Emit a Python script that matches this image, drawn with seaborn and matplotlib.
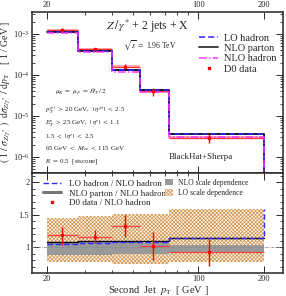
import matplotlib
matplotlib.use("Agg")
import matplotlib.pyplot as plt
from matplotlib.lines import Line2D
from matplotlib.patches import Patch
from matplotlib.ticker import FixedLocator, NullFormatter, LogLocator, LogFormatterMathtext, MultipleLocator
import numpy as np
import pandas as pd
import seaborn as sns

# bins in second-jet pT [GeV]
BIN_EDGES = [20, 28, 40, 54, 73, 200]
DATA_X = [23.4, 33.4, 46.0, 62.0, 112.6]

# upper panel: normalised cross sections [1/GeV]
LO_HADRON = [1.11e-3, 3.85e-4, 1.30e-4, 4.2e-5, 3.6e-6]
NLO_PARTON = [1.14e-3, 3.9e-4, 1.32e-4, 4.3e-5, 3.6e-6]
NLO_HADRON = [1.06e-3, 3.6e-4, 1.21e-4, 3.9e-5, 3.15e-6]
D0_DATA = [1.28e-3, 4.2e-4, 1.6e-4, 4.0e-5, 2.95e-6]
D0_BAND = [0.06, 0.06, 0.08, 0.07, 0.08]

# lower panel: ratios to NLO hadron
RATIO_LO = [1.05, 1.07, 1.08, 1.08, 1.14]
RATIO_PARTON = [1.08, 1.095, 1.10, 1.10, 1.15]
RATIO_DATA = [1.19, 1.16, 1.33, 1.02, 0.93]
RATIO_DATA_ERR_LO = [0.155, 0.10, 0.17, 0.22, 0.22]
RATIO_DATA_ERR_HI = [0.12, 0.10, 0.17, 0.22, 0.20]
NLO_SCALE_LO = [0.89, 0.89, 0.90, 0.90, 0.92]
NLO_SCALE_HI = [1.07, 1.08, 1.08, 1.07, 1.03]
LO_SCALE_LO = [0.78, 0.77, 0.75, 0.75, 0.77]
LO_SCALE_HI = [1.45, 1.48, 1.52, 1.52, 1.585]

BLUE = "#2a2aff"
MAGENTA = "#ff33ff"
HATCH = "#d09048"


def step_frame(values, floor=None):
    x = list(BIN_EDGES)
    y = list(values) + [values[-1]]
    if floor is not None:
        x.append(BIN_EDGES[-1])
        y.append(floor)
    return pd.DataFrame({"pt": x, "val": y})


def style_xaxis(ax, top_labels):
    ax.set_xscale("log")
    ax.set_xlim(17.1, 246)
    ax.xaxis.set_major_locator(FixedLocator([20, 100, 200]))
    ax.xaxis.set_minor_locator(FixedLocator([30, 40, 50, 60, 70, 80, 90]))
    ax.xaxis.set_major_formatter(matplotlib.ticker.FuncFormatter(lambda v, p: f"{v:g}"))
    ax.xaxis.set_minor_formatter(NullFormatter())
    ax.tick_params(which="both", direction="in", top=True, right=True,
                   labeltop=top_labels, labelbottom=not top_labels, labelsize=6, pad=2)
    ax.tick_params(which="major", length=5, width=0.7)
    ax.tick_params(which="minor", length=2.5, width=0.6)
    ax.set_xlabel("")
    ax.set_ylabel("")


sns.set_theme(style="ticks", context="paper")
plt.rcParams.update({
    "font.family": ["Liberation Serif", "DejaVu Serif"],
    "mathtext.fontset": "stix",
    "axes.linewidth": 1.1,
    "hatch.linewidth": 0.5,
})

fig = plt.figure(figsize=(2.86, 2.96), dpi=100)
ax_top = fig.add_axes([0.112, 0.4145, 0.8775, 0.546])
ax_bot = fig.add_axes([0.112, 0.0787, 0.8775, 0.3358])

# ---------------- upper panel ----------------
for i, d in enumerate(D0_DATA):
    ax_top.fill_between([BIN_EDGES[i], BIN_EDGES[i + 1]], d * (1 - D0_BAND[i]), d * (1 + D0_BAND[i]),
                        color="#ffb0b0", lw=0, zorder=1)
ax_top.hlines(D0_DATA, BIN_EDGES[:-1], BIN_EDGES[1:], color="#ff3030", lw=0.9, zorder=2)

sns.lineplot(data=step_frame(NLO_PARTON, 1e-9), x="pt", y="val", ax=ax_top, sort=False, estimator=None,
             drawstyle="steps-post", color="black", lw=1.3, zorder=3)
sns.lineplot(data=step_frame(LO_HADRON, 1e-9), x="pt", y="val", ax=ax_top, sort=False, estimator=None,
             drawstyle="steps-post", color=BLUE, lw=1.1, linestyle=(0, (4, 2)), zorder=4)
sns.lineplot(data=step_frame(NLO_HADRON, 1e-9), x="pt", y="val", ax=ax_top, sort=False, estimator=None,
             drawstyle="steps-post", color=MAGENTA, lw=1.1, linestyle=(0, (5, 1.5, 1, 1.5)), zorder=5)

data_err = np.array([np.array(D0_DATA) * np.array(RATIO_DATA_ERR_LO) / np.array(RATIO_DATA),
                     np.array(D0_DATA) * np.array(RATIO_DATA_ERR_HI) / np.array(RATIO_DATA)])
ax_top.errorbar(DATA_X, D0_DATA, yerr=data_err, fmt="s", ms=1.8, color="red", elinewidth=1.0,
                capsize=0, zorder=6)

ax_top.set_yscale("log")
ax_top.set_ylim(4.0e-7, 3.5e-3)
ax_top.yaxis.set_major_locator(LogLocator(base=10, numticks=10))
ax_top.yaxis.set_major_formatter(LogFormatterMathtext())
ax_top.yaxis.set_minor_locator(LogLocator(base=10, subs=np.arange(2, 10), numticks=20))
ax_top.yaxis.set_minor_formatter(NullFormatter())
style_xaxis(ax_top, top_labels=True)

ax_top.text(0.462, 0.911, r"$Z\,/\,\gamma^{*}$ + 2 jets + X", transform=ax_top.transAxes,
            ha="center", va="center", fontsize=8.5)
ax_top.text(0.363, 0.794, r"$\sqrt{s}\ =\ $1.96 TeV", transform=ax_top.transAxes,
            ha="left", va="center", fontsize=5.5)
small = [
    (0.092, 0.505, r"$\mu_R\ =\ \mu_F\ =\ \hat{H}_T\,/\,2$"),
    (0.052, 0.392, r"$p_T^{jet}\ >\ $20 GeV,  $|\,\eta^{jet}|\ <\ $2.5"),
    (0.052, 0.305, r"$E_T^{e}\ >\ $25 GeV,  $|\,\eta^{e}|\ <\ $1.1"),
    (0.052, 0.226, r"1.5 $<\ |\,\eta^{e}|\ <\ $2.5"),
    (0.052, 0.150, r"65 GeV $<\ M_{ee}\ <\ $115 GeV"),
    (0.052, 0.070, r"$R\ =\ $0.5  [siscone]"),
]
for x, y, s in small:
    ax_top.text(x, y, s, transform=ax_top.transAxes, ha="left", va="center", fontsize=5)
ax_top.text(0.545, 0.10, "BlackHat+Sherpa", transform=ax_top.transAxes, ha="left", va="center",
            fontsize=6.5)

top_handles = [
    Line2D([], [], color=BLUE, lw=1.1, linestyle=(0, (4, 2))),
    Line2D([], [], color="#333333", lw=1.3),
    Line2D([], [], color=MAGENTA, lw=1.1, linestyle=(0, (5, 1.5, 1, 1.5))),
    Line2D([], [], color="red", marker="s", ms=1.8, lw=0),
]
ax_top.legend(top_handles, ["LO hadron", "NLO parton", "NLO hadron", "D0 data"],
              loc="upper right", bbox_to_anchor=(1.0, 0.905), frameon=False, fontsize=7.5,
              handlelength=1.8, handletextpad=0.6, labelspacing=0.1, borderaxespad=0.2)

# ---------------- lower panel ----------------
ext = lambda v: list(v) + [v[-1]]
ax_bot.fill_between(BIN_EDGES, ext(LO_SCALE_LO), ext(LO_SCALE_HI), step="post", facecolor="#fdf6ec",
                    edgecolor=HATCH, hatch="xxxxxxxxx", lw=0, zorder=1)
ax_bot.fill_between(BIN_EDGES, ext(NLO_SCALE_LO), ext(NLO_SCALE_HI), step="post", color="#999999",
                    lw=0, zorder=2)
ax_bot.axhline(1.0, color="#888888", lw=0.6, linestyle=(0, (3, 1.5, 1, 1.5)), zorder=3)

sns.lineplot(data=step_frame(RATIO_PARTON), x="pt", y="val", ax=ax_bot, sort=False, estimator=None,
             drawstyle="steps-post", color="black", lw=1.0, zorder=4)
sns.lineplot(data=step_frame(RATIO_LO, LO_SCALE_HI[-1]), x="pt", y="val", ax=ax_bot, sort=False,
             estimator=None, drawstyle="steps-post", color=BLUE, lw=1.0, linestyle=(0, (4, 2)), zorder=5)

ax_bot.hlines(RATIO_DATA, BIN_EDGES[:-1], BIN_EDGES[1:], color="#ff4040", lw=0.9, zorder=6)
ax_bot.errorbar(DATA_X, RATIO_DATA, yerr=[RATIO_DATA_ERR_LO, RATIO_DATA_ERR_HI], fmt="s", ms=1.8,
                color="red", elinewidth=1.0, capsize=0, zorder=7)

ax_bot.set_ylim(0.61, 2.14)
ax_bot.yaxis.set_major_locator(FixedLocator([1, 1.5, 2]))
ax_bot.yaxis.set_major_formatter(matplotlib.ticker.FuncFormatter(lambda v, p: f"{v:g}"))
ax_bot.yaxis.set_minor_locator(MultipleLocator(0.1))
style_xaxis(ax_bot, top_labels=False)

left_handles = [
    Line2D([], [], color=BLUE, lw=1.0, linestyle=(0, (4, 2))),
    Line2D([], [], color="#777777", lw=2.2),
    Line2D([], [], color="red", marker="s", ms=1.8, lw=0),
]
leg1 = ax_bot.legend(left_handles, ["LO hadron / NLO hadron", "NLO parton / NLO hadron",
                                    "D0 data / NLO hadron"],
                     loc="upper left", bbox_to_anchor=(0.02, 1.0), frameon=False, fontsize=6.5,
                     handlelength=2.0, handletextpad=0.8, labelspacing=0.15, borderaxespad=0.3)
ax_bot.add_artist(leg1)
right_handles = [
    Patch(facecolor="#999999", edgecolor="none"),
    Patch(facecolor="#fdf6ec", edgecolor=HATCH, hatch="xxxxxxxxx", lw=0),
]
ax_bot.legend(right_handles, ["NLO scale dependence", "LO scale dependence"],
              loc="upper left", bbox_to_anchor=(0.51, 1.0), frameon=False, fontsize=5.5,
              handlelength=1.0, handleheight=1.0, handletextpad=0.6, labelspacing=0.35,
              borderaxespad=0.3)

fig.text(0.02, 0.69, r"$(\ 1\ /\ \sigma_{Z/\gamma^{*}}\ )\ \ \mathrm{d}\sigma_{Z/\gamma^{*}}\ /\ \mathrm{d}p_\mathrm{T}$"
         r"    [ 1 / GeV ]", rotation=90, ha="center", va="center", fontsize=7)
fig.text(0.553, 0.018, r"Second  Jet  $p_\mathrm{T}$  [ GeV ]", ha="center", va="center", fontsize=7.5)

fig.savefig("out.png", dpi=100)
